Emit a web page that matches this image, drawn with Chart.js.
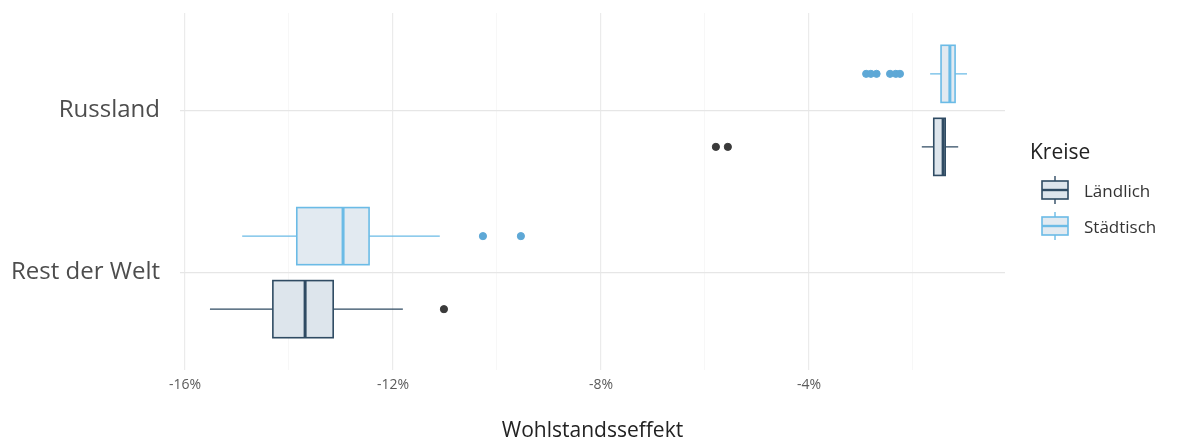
<!DOCTYPE html>
<html>
<head>
<meta charset="utf-8">
<script src="https://cdn.jsdelivr.net/npm/chart.js@4/dist/chart.umd.min.js"></script>
<style>
  body { margin: 0; background: #fff; font-family: "Open Sans", "Noto Sans", sans-serif; }
  #wrap { position: relative; width: 1178px; height: 445px; }
  #legende { position: absolute; left: 1030px; top: 136px; color: #222; }
  #legende .titel { font-size: 21px; line-height: 30px; margin-bottom: 6px; }
  #legende .eintrag { display: flex; align-items: center; height: 36px; font-size: 17px; color: #333; }
  #legende svg { margin-left: 10px; margin-right: 14px; }
</style>
</head>
<body>
<div id="wrap">
  <canvas id="boxChart" width="1178" height="445"></canvas>
  <div id="legende">
    <div class="titel">Kreise</div>
    <div class="eintrag">
      <svg width="30" height="32"><line x1="15" y1="2" x2="15" y2="30" stroke="#2f4b63" stroke-width="1.4"/><rect x="2" y="7" width="26" height="18" fill="#dde5ec" stroke="#2f4b63" stroke-width="1.6"/><line x1="2" y1="16" x2="28" y2="16" stroke="#2f4b63" stroke-width="2.4"/></svg>
      <span>Ländlich</span>
    </div>
    <div class="eintrag">
      <svg width="30" height="32"><line x1="15" y1="2" x2="15" y2="30" stroke="#6bbbe6" stroke-width="1.4"/><rect x="2" y="7" width="26" height="18" fill="#e2eaf1" stroke="#6bbbe6" stroke-width="1.6"/><line x1="2" y1="16" x2="28" y2="16" stroke="#6bbbe6" stroke-width="2.4"/></svg>
      <span>Städtisch</span>
    </div>
  </div>
</div>
<script>
// Kategorien (oben nach unten)
const kategorien = ["Russland", "Rest der Welt"];

// Boxplot-Kennzahlen je Kategorie: [min, q1, median, q3, max] in %
const laendlichBox = [
    [-1.83, -1.60, -1.42, -1.38, -1.13],
    [-15.52, -14.31, -13.69, -13.15, -11.81]
];
const staedtischBox = [
    [-1.67, -1.46, -1.29, -1.19, -0.96],
    [-14.90, -13.85, -12.96, -12.46, -11.10]
];

// Ausreißer je Kategorie
const laendlichAusreisser = [
    [-5.79, -5.56],
    [-11.02]
];
const staedtischAusreisser = [
    [-2.90, -2.81, -2.70, -2.44, -2.33, -2.25],
    [-10.27, -9.54]
];

const xTickWerte = [-16, -12, -8, -4];

// Farben
const farbeLaendlich = "#2f4b63";
const farbeStaedtisch = "#6bbbe6";
const fuellungLaendlich = "#dde5ec";
const fuellungStaedtisch = "#e2eaf1";

// Position auf der y-Achse: Russland oben (2), Rest der Welt unten (1)
function katPos(i) {
    return kategorien.length - i;
}
const versatz = 0.225;
const halbeHoehe = 0.176;

function punkte(liste, verschiebung) {
    const result = [];
    liste.forEach((werte, i) => {
        werte.forEach((v) => result.push({ x: v, y: katPos(i) + verschiebung }));
    });
    return result;
}

// Plugin zum Zeichnen der Boxplots über die Skalen
const boxPlugin = {
    id: "boxPlugin",
    beforeDatasetsDraw(chart) {
        const ctx = chart.ctx;
        const xs = chart.scales.x;
        const ys = chart.scales.y;
        const gruppen = [
            { box: laendlichBox, farbe: farbeLaendlich, fuellung: fuellungLaendlich, off: -versatz },
            { box: staedtischBox, farbe: farbeStaedtisch, fuellung: fuellungStaedtisch, off: versatz }
        ];
        ctx.save();
        gruppen.forEach((g) => {
            g.box.forEach((b, i) => {
                const c = katPos(i) + g.off;
                const yMitte = ys.getPixelForValue(c);
                const yOben = ys.getPixelForValue(c + halbeHoehe);
                const yUnten = ys.getPixelForValue(c - halbeHoehe);
                const xMin = xs.getPixelForValue(b[0]);
                const xQ1 = xs.getPixelForValue(b[1]);
                const xMed = xs.getPixelForValue(b[2]);
                const xQ3 = xs.getPixelForValue(b[3]);
                const xMax = xs.getPixelForValue(b[4]);

                ctx.strokeStyle = g.farbe;
                // Whisker
                ctx.lineWidth = 1.4;
                ctx.beginPath();
                ctx.moveTo(xMin, yMitte);
                ctx.lineTo(xQ1, yMitte);
                ctx.moveTo(xQ3, yMitte);
                ctx.lineTo(xMax, yMitte);
                ctx.stroke();
                // Box
                ctx.fillStyle = g.fuellung;
                ctx.fillRect(xQ1, yOben, xQ3 - xQ1, yUnten - yOben);
                ctx.lineWidth = 1.6;
                ctx.strokeRect(xQ1, yOben, xQ3 - xQ1, yUnten - yOben);
                // Median
                ctx.lineWidth = 3;
                ctx.beginPath();
                ctx.moveTo(xMed, yOben);
                ctx.lineTo(xMed, yUnten);
                ctx.stroke();
            });
        });
        ctx.restore();
    }
};

const ctx = document.getElementById("boxChart").getContext("2d");
const chart = new Chart(ctx, {
    type: "scatter",
    data: {
        datasets: [
            {
                label: "Ländlich",
                data: punkte(laendlichAusreisser, -versatz),
                backgroundColor: "#3a3a3a",
                borderColor: "#3a3a3a",
                pointRadius: 3.6,
                pointHoverRadius: 3.6
            },
            {
                label: "Städtisch",
                data: punkte(staedtischAusreisser, versatz),
                backgroundColor: "#5ea8d6",
                borderColor: "#5ea8d6",
                pointRadius: 3.6,
                pointHoverRadius: 3.6
            }
        ]
    },
    options: {
        responsive: false,
        animation: false,
        events: [],
        layout: { padding: { top: 13, right: 173, left: 0, bottom: 0 } },
        plugins: {
            legend: { display: false },
            tooltip: { enabled: false }
        },
        scales: {
            x: {
                type: "linear",
                min: -16.096,
                max: -0.23,
                afterFit(scale) { scale.height = 75; },
                ticks: {
                    stepSize: 2,
                    includeBounds: false,
                    padding: 7,
                    color: "#5a5a5a",
                    font: { family: "Open Sans", size: 14 },
                    callback: (v) => xTickWerte.includes(v) ? v + "%" : ""
                },
                grid: {
                    drawTicks: false,
                    color: (c) => c.tick && xTickWerte.includes(c.tick.value) ? "#ebebeb" : "#f5f5f5",
                    lineWidth: (c) => c.tick && xTickWerte.includes(c.tick.value) ? 1.2 : 0.8
                },
                border: { display: false },
                title: {
                    display: true,
                    text: "Wohlstandsseffekt",
                    color: "#222",
                    font: { family: "Open Sans", size: 21 },
                    padding: { top: 0, bottom: 1 }
                }
            },
            y: {
                type: "linear",
                min: 0.4,
                max: 2.6,
                afterFit(scale) {
                    scale.width = 180;
                    scale.paddingTop = 0;
                    scale.paddingBottom = 0;
                },
                afterBuildTicks(scale) {
                    scale.ticks = kategorien.map((k, i) => ({ value: katPos(i) }));
                },
                ticks: {
                    padding: 20,
                    color: "#4d4d4d",
                    font: { family: "Open Sans", size: 24 },
                    callback: (v) => kategorien[kategorien.length - v]
                },
                grid: {
                    drawTicks: false,
                    color: "#e6e6e6",
                    lineWidth: 1.2
                },
                border: { display: false }
            }
        }
    },
    plugins: [boxPlugin]
});
</script>
</body>
</html>
